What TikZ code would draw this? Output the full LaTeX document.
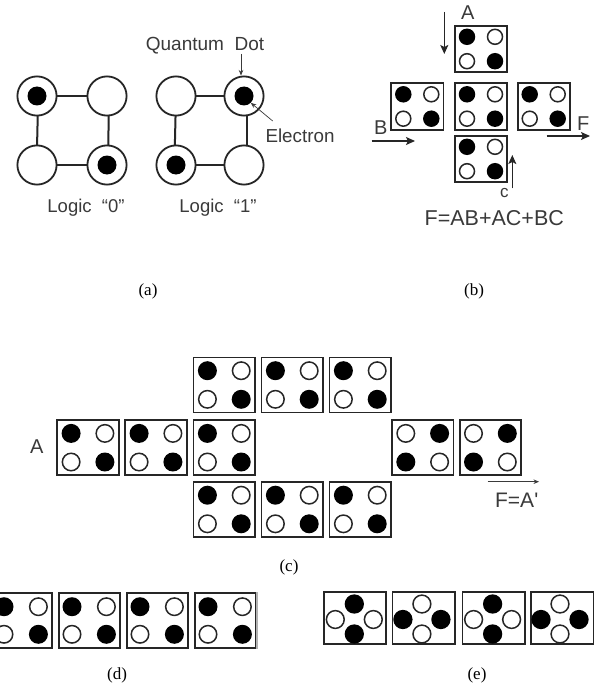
\documentclass[tikz,border=0pt]{standalone}
\usepackage{fontspec}
\setmainfont{Liberation Serif}
\newfontfamily\lblfont{Liberation Sans}
\usetikzlibrary{arrows.meta}
\definecolor{ink}{HTML}{262626}
\definecolor{lbl}{HTML}{3A3A3A}
\newcommand\setcell[5]{\def\cw{#1}\def\ch{#2}\def\ddx{#3}\def\ddy{#4}\def\dr{#5}}
\newcommand\qcell[7]{%
  \begin{scope}[shift={(#2,#3)}]
    \node[cellbox,minimum width=\cw pt,minimum height=\ch pt] (#1) at (0,0) {};
    \node[#4] (#1-tl) at (-\ddx,-\ddy) {};
    \node[#5] (#1-tr) at (\ddx,-\ddy) {};
    \node[#6] (#1-bl) at (-\ddx,\ddy) {};
    \node[#7] (#1-br) at (\ddx,\ddy) {};
  \end{scope}}
\newcommand\stdcell[3]{\qcell{#1}{#2}{#3}{blk}{wht}{wht}{blk}}
\newcommand\invcell[3]{\qcell{#1}{#2}{#3}{wht}{blk}{blk}{wht}}
\tikzset{
  cellbox/.style={draw=ink,line width=1.8pt,rectangle,inner sep=0pt},
  blk/.style={circle,fill=black,inner sep=0pt,minimum size=\dr pt},
  wht/.style={circle,fill=white,draw=ink,line width=1.5pt,inner sep=0pt,minimum size=\dr pt-1.5pt},
  dotsite/.style={circle,draw=ink,fill=white,line width=1.8pt,minimum size=39.2pt,inner sep=0pt},
  link/.style={draw=ink,line width=2pt},
  elec/.style={circle,fill=black,minimum size=19pt,inner sep=0pt},
  lab/.style={font=\lblfont,text=lbl,inner sep=0pt},
  captext/.style={font=\fontsize{17}{20}\selectfont,text=black,inner sep=0pt},
  arr/.style={draw=ink,line width=1.2pt,-{Stealth[length=9pt,width=8pt,inset=2pt]}},
  thinarr/.style={draw=lbl,line width=0.7pt,-{Stealth[length=5.5pt,width=4.5pt]}},
}
\begin{document}
\begin{tikzpicture}[x=1pt,y=-1pt]
\clip (0,0) rectangle (600,690);
\fill[white] (0,0) rectangle (600,690);
% panel (a)
\draw[link] (37,96) coordinate (p1) -- (107,96) coordinate (p2);
\draw[link] (37,165) coordinate (p3) -- (107,165) coordinate (p4);
\draw[link] (176,96) coordinate (p5) -- (244,96) coordinate (p6);
\draw[link] (176,165) coordinate (p7) -- (244,165) coordinate (p8);
\draw[link] ([xshift=1.2pt]p1) -- ([xshift=-0.4pt]p3);
\draw[link] ([xshift=2pt]p2) -- ([xshift=1pt]p4);
\draw[link] (p5) -- ([xshift=-1.6pt]p7);
\draw[link] ([xshift=3pt]p6) -- ([xshift=3pt]p8);
\node[dotsite] (a1) at (p1) {};
\node[dotsite] (a2) at (p2) {};
\node[dotsite] (a3) at (p3) {};
\node[dotsite] (a4) at (p4) {};
\node[dotsite] (a5) at (p5) {};
\node[dotsite] (a6) at (p6) {};
\node[dotsite] (a7) at (p7) {};
\node[dotsite] (a8) at (p8) {};
\node[elec] (q1) at (a1) {};
\node[elec] (q4) at (a4) {};
\node[elec] (q6) at (a6) {};
\node[elec] (q7) at (a7) {};
\node[lab,font=\lblfont\fontsize{18.5}{22}\selectfont] (l0) at (86,208) {Logic~~“0”};
\node[lab,font=\lblfont\fontsize{18.5}{22}\selectfont] (l1) at (218,208) {Logic~~“1”};
\node[lab,font=\lblfont\fontsize{19}{22}\selectfont] (qd) at (205,46) {Quantum~~Dot};
\node[lab,font=\lblfont\fontsize{18.8}{22}\selectfont] (el) at (300,136) {Electron};
\coordinate (qdstart) at (241,54);
\coordinate (elstart) at (272.7,121);
\draw[thinarr] (qdstart) -- (a6.north -| qdstart);
\draw[thinarr] (elstart) -- (q6.south east);
\node[captext] (capa) at (148,291) {(a)};
% panel (b)
\setcell{52.2}{46.2}{14}{12.2}{16.5}
\stdcell{bt}{481}{49}
\stdcell{bl}{417.3}{106.5}
\stdcell{bc}{481}{106.5}
\stdcell{br}{543.7}{106.5}
\stdcell{bb}{481}{159}
\coordinate (as) at (444.3,12); \coordinate (ae) at (444.3,54);
\coordinate (bs) at (371.7,141); \coordinate (be) at (415,141);
\coordinate (fs) at (546.7,136); \coordinate (fe) at (590,136);
\coordinate (cs) at (512.3,188.3); \coordinate (ce) at (512.3,155);
\draw[arr] (as) -- (ae);
\draw[arr] (bs) -- (be);
\draw[arr] (fs) -- (fe);
\draw[arr] (cs) -- (ce);
\node[lab,font=\lblfont\fontsize{20}{22}\selectfont] (la) at (467.7,13) {A};
\node[lab,font=\lblfont\fontsize{20}{22}\selectfont] (lb) at (380.7,127.7) {B};
\node[lab,font=\lblfont\fontsize{20}{22}\selectfont] (lf) at (583.3,124) {F};
\node[lab,font=\lblfont\fontsize{17}{20}\selectfont] (lc) at (504.3,193) {c};
\node[lab,font=\lblfont\fontsize{21.5}{24}\selectfont] (eqn) at (494.3,218) {F=AB+AC+BC};
\node[captext] (capb) at (474,291) {(b)};
% panel (c)
\setcell{61.5}{55}{16.9}{14.3}{19}
\stdcell{c1}{224.3}{385}
\stdcell{c2}{292.3}{385}
\stdcell{c3}{360.3}{385}
\stdcell{c4}{88}{447.7}
\stdcell{c5}{156}{447.7}
\stdcell{c6}{224.3}{447.7}
\invcell{c7}{422.7}{447.7}
\invcell{c8}{490.4}{447.7}
\stdcell{c9}{224.3}{509.5}
\stdcell{c10}{292.3}{509.5}
\stdcell{c11}{360.3}{509.5}
\node[lab,font=\lblfont\fontsize{20}{22}\selectfont] (lca) at (36.7,447) {A};
\coordinate (cfs) at (487.7,481.7); \coordinate (cfe) at (539,481.7);
\draw[thinarr] (cfs) -- (cfe);
\node[lab,font=\lblfont\fontsize{21}{24}\selectfont] (lcf) at (516.7,500) {F=A'};
\node[captext] (capc) at (289,567) {(c)};
% panel (d)
\setcell{61.2}{55}{17.2}{13.8}{19}
\stdcell{d1}{21.2}{620.5}
\stdcell{d2}{89.2}{620.5}
\stdcell{d3}{157.2}{620.5}
\stdcell{d4}{225.2}{620.5}
\draw[draw=gray!60,line width=1.8pt] (d4.north east) -- (d4.south east);
\node[captext] (capd) at (117,675) {(d)};
% panel (e)
\def\dr{19.3}
\foreach \n/\cx/\px/\tb/\lr in {x1/354.7/354.3/blk/wht,x2/423.5/421.9/wht/blk,x3/493.5/492.6/blk/wht,x4/562.3/560/wht/blk}{
  \node[cellbox,minimum width=62.2pt,minimum height=52.2pt] (\n) at (\cx,618) {};
  \node[\tb] (\n-t) at (\px,604) {};
  \node[\tb] (\n-b) at (\px,634) {};
  \node[\lr] (\n-l) at (\px-19,619.5) {};
  \node[\lr] (\n-r) at (\px+19,619.5) {};
}
\node[captext] (cape) at (477,675) {(e)};
\end{tikzpicture}
\end{document}
